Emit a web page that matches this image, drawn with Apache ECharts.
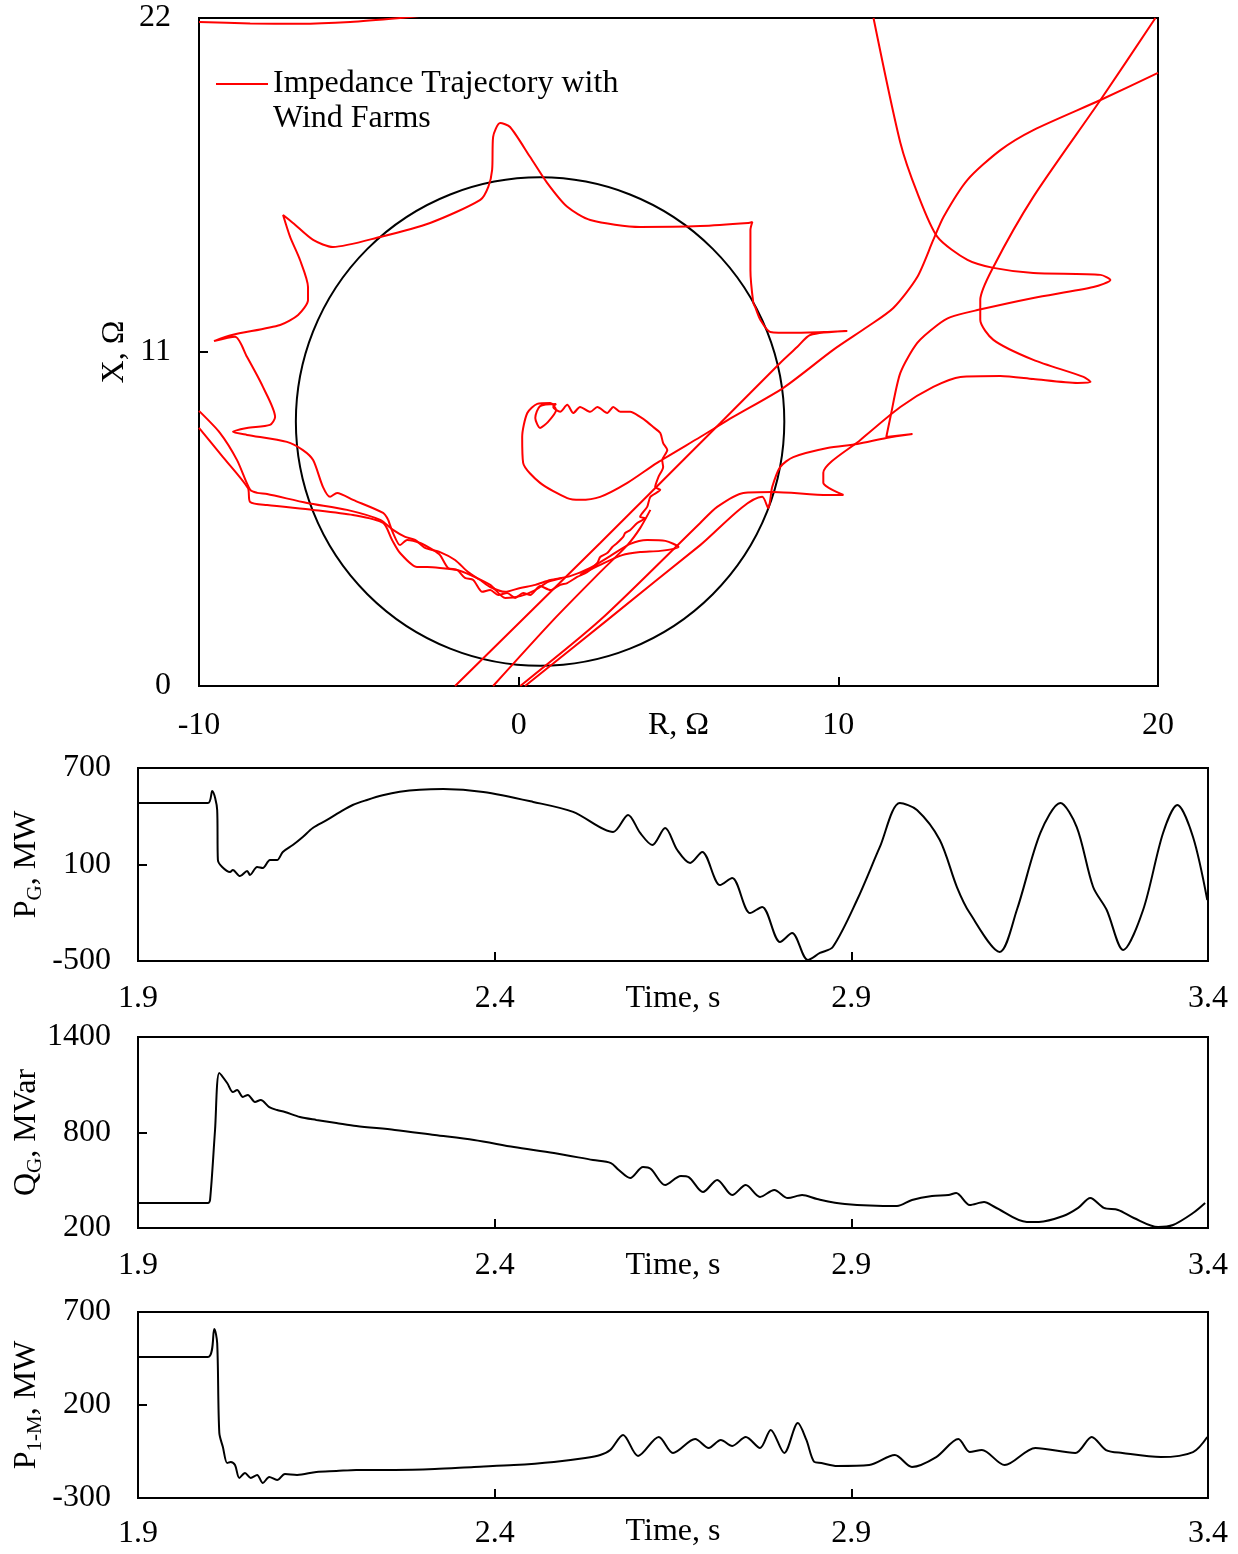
<!DOCTYPE html>
<html>
<head>
<meta charset="utf-8">
<script src="https://cdn.jsdelivr.net/npm/echarts@6/dist/echarts.min.js"></script>
<style>
  html, body { margin: 0; padding: 0; background: #fff; }
  #chart { width: 1238px; height: 1554px; }
</style>
</head>
<body>
<div id="chart"></div>
<script>
// ---- impedance plane (R, X in ohm) ----
const rTicks = [-10, 0, 10, 20];
const xTicks = [0, 11, 22];
// relay characteristic: centre R, centre X, radius (ohm)
const relayCircle = [[0.67, 8.71, 7.64]];

const trajTopEdge = [[-10.0, 21.87], [-8.4, 21.82], [-6.84, 21.81], [-5.27, 21.87], [-3.71, 22.0], [-3.08, 22.07]];

// from top right corner down into the inner spiral, then the lower spiral
const trajSpiral = [
  [20.0, 20.19], [18.2, 19.3], [16.1, 18.31], [15.07, 17.65], [14.04, 16.67], [13.29, 15.45],
  [12.97, 14.69], [12.47, 13.47], [11.72, 12.45], [10.91, 11.83], [9.84, 11.07], [8.28, 9.82],
  [6.71, 8.86], [5.68, 8.2], [4.33, 7.35], [3.4, 6.69], [2.55, 6.23], [1.92, 6.13], [1.52, 6.19],
  [0.67, 6.69], [0.14, 7.35], [0.11, 8.2], [0.27, 8.99], [0.58, 9.29], [0.99, 9.32],
  [1.17, 9.09], [0.92, 8.7], [0.67, 8.5], [0.52, 8.83], [0.67, 9.22], [1.17, 9.29],
  [1.08, 9.19], [1.3, 9.03], [1.52, 9.26], [1.71, 8.99], [1.92, 9.19], [2.24, 9.03], [2.46, 9.19],
  [2.77, 8.99], [2.96, 9.19], [3.18, 9.03], [3.49, 9.03], [3.8, 8.86], [4.02, 8.7], [4.21, 8.53],
  [4.43, 8.33], [4.52, 8.0], [4.65, 7.77], [4.49, 7.44], [4.52, 7.21], [4.37, 6.88], [4.27, 6.55],
  [4.43, 6.46], [4.12, 6.23], [4.02, 5.9], [3.8, 5.57], [3.96, 5.53], [3.71, 5.37], [3.49, 5.14],
  [3.33, 5.04], [3.27, 4.91], [3.08, 4.71], [2.93, 4.58], [2.77, 4.38], [2.55, 4.25], [2.46, 4.05],
  [2.14, 3.75], [1.83, 3.59], [1.52, 3.39], [1.3, 3.33], [0.99, 3.16], [0.67, 3.29], [0.36, 3.0],
  [0.14, 3.06], [-0.11, 2.9], [-0.36, 3.06], [-0.64, 3.0], [-0.89, 3.16], [-1.14, 3.1], [-1.42, 3.49],
  [-1.68, 3.56], [-1.92, 3.82], [-2.21, 3.89], [-2.46, 4.31], [-2.68, 4.48], [-3.08, 4.71],
  [-3.49, 4.81], [-3.71, 4.64], [-3.93, 5.04], [-4.08, 5.47]
];

// outer loop around the circle, ending with the straight swing down to the R axis
const trajStar = [
  [-4.08, 5.47], [-4.24, 5.7], [-5.18, 6.13], [-5.68, 6.36], [-5.9, 6.23], [-6.12, 6.55],
  [-6.43, 7.44], [-6.75, 7.77], [-7.25, 8.04], [-8.5, 8.27], [-8.94, 8.37], [-8.5, 8.5],
  [-7.78, 8.6], [-7.62, 8.86], [-8.0, 9.85], [-8.5, 10.84], [-8.87, 11.5], [-9.53, 11.36],
  [-8.97, 11.56], [-7.46, 11.89], [-6.9, 12.22], [-6.59, 12.71], [-6.59, 13.14], [-6.84, 14.03],
  [-7.15, 14.79], [-7.37, 15.51], [-7.06, 15.25], [-6.43, 14.69], [-5.81, 14.46], [-4.33, 14.79],
  [-2.77, 15.25], [-1.2, 16.01], [-0.95, 16.44], [-0.83, 17.0], [-0.8, 18.08], [-0.58, 18.54],
  [-0.27, 18.41], [0.36, 17.42], [0.89, 16.57], [1.52, 15.78], [2.24, 15.35], [3.8, 15.12],
  [5.68, 15.15], [7.18, 15.25], [7.31, 15.28], [7.25, 15.02], [7.25, 13.7], [7.34, 12.62],
  [7.4, 12.48], [7.56, 12.06], [7.87, 11.66], [8.59, 11.63], [9.66, 11.66], [10.28, 11.69],
  [9.12, 11.56], [8.72, 11.17], [8.18, 10.64], [6.31, 8.66], [2.55, 4.71], [-1.99, 0.0]
];

const trajLeftUpper = [
  [-10.0, 9.06], [-9.34, 8.33], [-8.81, 7.44], [-8.4, 6.46], [-8.18, 6.36], [-7.87, 6.32],
  [-6.62, 6.03], [-5.37, 5.8], [-4.33, 5.47], [-3.93, 5.14], [-3.55, 4.91], [-3.24, 4.81],
  [-2.93, 4.55], [-2.46, 4.41], [-1.99, 4.15], [-1.58, 3.75], [-1.2, 3.49], [-0.89, 3.26],
  [-0.42, 3.1], [0.05, 3.23], [0.52, 3.33], [0.99, 3.49], [1.61, 3.62], [2.24, 3.89],
  [2.86, 4.28], [3.49, 4.68], [4.02, 4.81], [4.59, 4.78], [5.0, 4.58], [4.43, 4.45],
  [3.8, 4.41], [3.24, 4.31], [2.55, 3.99], [1.92, 3.66]
];

const trajLeftLower = [
  [-10.0, 8.5], [-9.25, 7.54], [-8.47, 6.52], [-8.4, 6.06], [-7.87, 5.96], [-6.43, 5.8],
  [-5.18, 5.63], [-4.24, 5.37], [-3.96, 4.81], [-3.71, 4.38], [-3.18, 3.92], [-2.86, 3.92],
  [-2.46, 3.89], [-1.92, 3.82], [-1.52, 3.66], [-0.89, 3.33], [-0.42, 2.9], [0.05, 2.96],
  [0.52, 3.16], [0.92, 3.43], [1.36, 3.56]
];

const trajDiagA = [[-0.8, 0.0], [1.08, 2.17], [2.55, 3.75], [3.4, 4.64], [3.8, 5.2], [4.12, 5.8]];

const trajDiagB = [
  [0.05, 0.0], [2.55, 2.17], [5.68, 5.37], [6.21, 5.9], [7.03, 6.36], [7.97, 6.39], [9.66, 6.29],
  [10.16, 6.29], [9.53, 6.69], [9.53, 7.02], [10.69, 8.1], [11.94, 9.19], [12.97, 9.85],
  [13.82, 10.18], [15.07, 10.21], [16.1, 10.11], [17.48, 9.98], [17.89, 10.01], [17.67, 10.18],
  [16.1, 10.74], [14.85, 11.4], [14.44, 12.06], [14.44, 12.71], [14.85, 13.8], [16.1, 16.11],
  [18.2, 19.3], [19.92, 22.0]
];

const trajDiagC = [
  [0.2, 0.0], [2.77, 2.17], [5.68, 4.64], [7.62, 6.23], [7.81, 5.86], [7.87, 6.13], [7.93, 6.55],
  [8.18, 7.21], [8.59, 7.54], [9.66, 7.84], [10.59, 7.97], [11.5, 8.17], [12.32, 8.3],
  [11.5, 8.2], [11.63, 8.86], [11.94, 10.31], [12.47, 11.3], [13.1, 11.89], [13.51, 12.15],
  [14.35, 12.38], [16.1, 12.78], [17.98, 13.14], [18.51, 13.37], [18.2, 13.54], [16.1, 13.6],
  [14.85, 13.77], [14.04, 14.03], [13.1, 14.79], [12.47, 16.24], [11.94, 17.89], [11.1, 22.0]
];

// ---- time series ----
const timeTicks = [1.9, 2.4, 2.9, 3.4];
const pgTicks = [-500, 100, 700];
const qgTicks = [200, 800, 1400];
const p1mTicks = [-300, 200, 700];

const pgData = [
  [1.9, 482], [1.998, 482], [2.004, 557], [2.011, 439], [2.012, 128], [2.018, 84], [2.029, 53],
  [2.033, 66], [2.043, 28], [2.053, 60], [2.057, 35], [2.067, 84], [2.075, 78], [2.085, 128],
  [2.095, 128], [2.103, 178], [2.117, 221], [2.131, 271], [2.145, 327], [2.165, 377], [2.183, 426],
  [2.201, 470], [2.221, 501], [2.243, 530], [2.267, 552], [2.295, 565], [2.328, 569], [2.384, 551],
  [2.454, 489], [2.51, 427], [2.566, 302], [2.587, 408], [2.604, 296], [2.621, 221], [2.639, 327],
  [2.656, 190], [2.674, 109], [2.691, 178], [2.716, -28], [2.733, 16], [2.758, -202], [2.775, -164],
  [2.8, -382], [2.817, -326], [2.839, -494], [2.856, -450], [2.874, -413], [2.908, -121],
  [2.94, 209], [2.968, 482], [2.992, 439], [3.024, 252], [3.048, -40], [3.066, -202], [3.108, -444],
  [3.132, -183], [3.165, 296], [3.193, 482], [3.216, 333], [3.239, -40], [3.258, -183],
  [3.281, -432], [3.309, -183], [3.337, 296], [3.357, 470], [3.379, 271], [3.399, -121]
];

const qgData = [
  [1.9, 357], [1.998, 357], [2.001, 376], [2.008, 816], [2.014, 1174], [2.025, 1111], [2.033, 1054],
  [2.039, 1067], [2.047, 1023], [2.054, 1036], [2.064, 992], [2.072, 1004], [2.084, 960],
  [2.095, 941], [2.106, 929], [2.127, 897], [2.15, 879], [2.178, 860], [2.206, 841], [2.26, 816],
  [2.316, 784], [2.371, 753], [2.427, 709], [2.483, 671], [2.538, 627], [2.563, 608], [2.574, 564],
  [2.59, 514], [2.608, 583], [2.619, 571], [2.639, 470], [2.661, 527], [2.672, 520], [2.692, 426],
  [2.712, 502], [2.733, 407], [2.752, 470], [2.772, 395], [2.792, 439], [2.811, 388], [2.831, 407],
  [2.852, 382], [2.891, 351], [2.964, 338], [2.985, 376], [3.013, 401], [3.036, 407], [3.047, 420],
  [3.066, 344], [3.086, 363], [3.101, 332], [3.146, 238], [3.163, 238], [3.197, 275], [3.218, 326],
  [3.235, 388], [3.254, 326], [3.274, 313], [3.296, 263], [3.33, 206], [3.351, 219], [3.379, 294],
  [3.396, 357]
];

const p1mData = [
  [1.9, 458], [1.998, 458], [2.007, 609], [2.011, 533], [2.014, 50], [2.019, -26], [2.025, -112],
  [2.03, -106], [2.036, -123], [2.042, -192], [2.05, -166], [2.058, -192], [2.067, -176],
  [2.075, -219], [2.084, -187], [2.095, -203], [2.106, -171], [2.123, -176], [2.15, -160],
  [2.178, -155], [2.206, -149], [2.26, -149], [2.316, -144], [2.371, -133], [2.427, -123],
  [2.483, -106], [2.527, -85], [2.548, -69], [2.562, -42], [2.58, 39], [2.601, -74], [2.63, 28],
  [2.65, -58], [2.681, 17], [2.7, -31], [2.717, 12], [2.733, -20], [2.752, 28], [2.772, -31],
  [2.787, 66], [2.806, -58], [2.825, 103], [2.837, 12], [2.848, -106], [2.858, -112], [2.88, -128],
  [2.925, -123], [2.961, -69], [2.985, -133], [3.019, -80], [3.05, 17], [3.066, -53], [3.083, -42],
  [3.115, -123], [3.158, -31], [3.214, -58], [3.237, 28], [3.257, -42], [3.28, -58], [3.334, -80],
  [3.379, -53], [3.399, 28]
];

const FONT = 'Liberation Serif, "Times New Roman", serif';
const FS = 32;
const chart = echarts.init(document.getElementById('chart'));

function valueAxis(extra, labelMargin, labelPad) {
  return Object.assign({
    type: 'value',
    nameMoveOverlap: false,
    axisLine: { show: true, onZero: false, lineStyle: { color: '#000', width: 2 } },
    axisTick: { show: true, inside: true, length: 9, lineStyle: { color: '#000', width: 2 } },
    axisLabel: {
      color: '#000', fontSize: FS, fontFamily: FONT, margin: labelMargin,
      padding: labelPad || 0,
      formatter: v => String(v)
    },
    splitLine: { show: false },
    nameTextStyle: {
      color: '#000', fontSize: FS, fontFamily: FONT,
      rich: {
        a: { color: '#000', fontSize: FS, fontFamily: FONT },
        s: { color: '#000', fontSize: 21, fontFamily: FONT, padding: [17, 0, 0, 0] }
      }
    }
  }, extra);
}

function withTicks(axis, ticks) {
  axis.axisTick.customValues = ticks;
  axis.axisLabel.customValues = ticks;
  return axis;
}

const trajLine = data => ({
  name: 'Impedance Trajectory with',
  type: 'line',
  xAxisIndex: 0,
  yAxisIndex: 0,
  data: data,
  showSymbol: false,
  symbol: 'none',
  smooth: 0.25,
  lineStyle: { color: '#ff0000', width: 2 },
  itemStyle: { color: '#ff0000' },
  z: 3
});

const timeLine = (idx, data) => ({
  type: 'line',
  xAxisIndex: idx,
  yAxisIndex: idx,
  data: data,
  showSymbol: false,
  symbol: 'none',
  smooth: 0.3,
  lineStyle: { color: '#000', width: 2 }
});

const frame = { show: true, borderColor: '#000', borderWidth: 2, containLabel: false };
const yPad = [7, 0, 0, 0];

const option = {
  animation: false,
  backgroundColor: '#fff',
  grid: [
    Object.assign({ left: 199, top: 18, width: 959, height: 668 }, frame),
    Object.assign({ left: 138, top: 768, width: 1070, height: 193 }, frame),
    Object.assign({ left: 138, top: 1037, width: 1070, height: 191 }, frame),
    Object.assign({ left: 138, top: 1312, width: 1070, height: 186 }, frame)
  ],
  legend: {
    left: 211,
    top: 63,
    data: ['Impedance Trajectory with'],
    icon: 'rect',
    itemWidth: 52,
    itemHeight: 2,
    textStyle: { color: '#000', fontSize: FS, fontFamily: FONT }
  },
  graphic: [{
    type: 'text',
    left: 273,
    top: 103,
    style: { text: 'Wind Farms', fill: '#000', font: FS + 'px ' + FONT }
  }],
  xAxis: [
    withTicks(valueAxis({ gridIndex: 0, min: -10, max: 20, name: 'R, Ω', nameLocation: 'middle', nameGap: 24 }, 24), rTicks),
    withTicks(valueAxis({ gridIndex: 1, min: 1.9, max: 3.4, name: 'Time, s', nameLocation: 'middle', nameGap: 22 }, 22), timeTicks),
    withTicks(valueAxis({ gridIndex: 2, min: 1.9, max: 3.4, name: 'Time, s', nameLocation: 'middle', nameGap: 22 }, 22), timeTicks),
    withTicks(valueAxis({ gridIndex: 3, min: 1.9, max: 3.4, name: 'Time, s', nameLocation: 'middle', nameGap: 18 }, 20), timeTicks)
  ],
  yAxis: [
    withTicks(valueAxis({ gridIndex: 0, min: 0, max: 22, name: 'X, Ω', nameLocation: 'middle', nameGap: 68 }, 28, yPad), xTicks),
    withTicks(valueAxis({ gridIndex: 1, min: -500, max: 700, name: '{a|P}{s|G}{a|, MW}', nameLocation: 'middle', nameGap: 92 }, 27, yPad), pgTicks),
    withTicks(valueAxis({ gridIndex: 2, min: 200, max: 1400, name: '{a|Q}{s|G}{a|, MVar}', nameLocation: 'middle', nameGap: 92 }, 27, yPad), qgTicks),
    withTicks(valueAxis({ gridIndex: 3, min: -300, max: 700, name: '{a|P}{s|1-M}{a|, MW}', nameLocation: 'middle', nameGap: 92 }, 27, yPad), p1mTicks)
  ],
  series: [
    {
      type: 'custom',
      xAxisIndex: 0,
      yAxisIndex: 0,
      data: relayCircle,
      encode: { x: 0, y: 1 },
      silent: true,
      z: 2,
      renderItem: (params, api) => {
        const c = api.coord([api.value(0), api.value(1)]);
        const r = api.size([api.value(2), 0])[0];
        return {
          type: 'circle',
          shape: { cx: c[0], cy: c[1], r: r },
          style: { fill: 'none', stroke: '#000', lineWidth: 2 }
        };
      }
    },
    trajLine(trajTopEdge),
    trajLine(trajSpiral),
    trajLine(trajStar),
    trajLine(trajLeftUpper),
    trajLine(trajLeftLower),
    trajLine(trajDiagA),
    trajLine(trajDiagB),
    trajLine(trajDiagC),
    timeLine(1, pgData),
    timeLine(2, qgData),
    timeLine(3, p1mData)
  ]
};

chart.setOption(option);
</script>
</body>
</html>
